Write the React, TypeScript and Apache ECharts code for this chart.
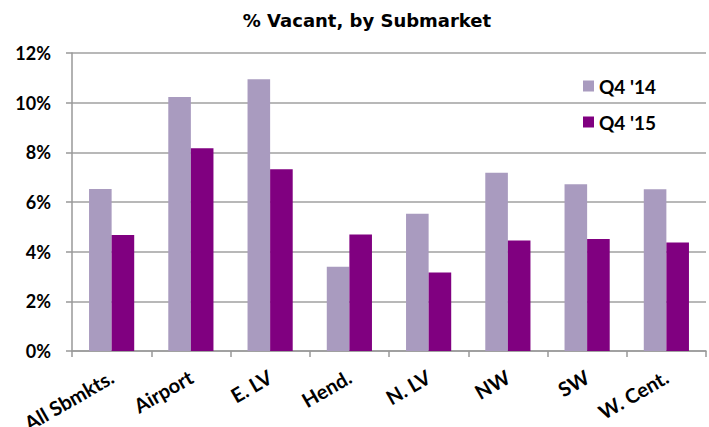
import React, { useEffect, useRef } from "react";
import * as echarts from "echarts";

const categories = ["All Sbmkts.", "Airport", "E. LV", "Hend.", "N. LV", "NW", "SW", "W. Cent."];
const q414 = [6.52, 10.23, 10.94, 3.39, 5.53, 7.18, 6.71, 6.51];
const q415 = [4.67, 8.16, 7.32, 4.69, 3.16, 4.45, 4.51, 4.37];
const seriesNames = ["Q4 '14", "Q4 '15"];

const FONT = "Lato, 'DejaVu Sans', sans-serif";

export default function App() {
  const ref = useRef<HTMLDivElement>(null);
  useEffect(() => {
    document.body.style.margin = "0";
    if (!ref.current) return;
    const chart = echarts.init(ref.current, null, { renderer: "svg" });
    chart.setOption({
      animation: false,
      backgroundColor: "#ffffff",
      title: {
        text: "% Vacant, by Submarket",
        left: 362,
        textAlign: "center",
        top: 6,
        textStyle: { fontFamily: "'DejaVu Sans', sans-serif", fontWeight: "bold", fontSize: 18, color: "#000" },
      },
      legend: {
        orient: "vertical",
        left: 578,
        top: 71,
        itemWidth: 11,
        itemHeight: 11,
        itemGap: 16,
        icon: "rect",
        data: seriesNames,
        textStyle: { fontFamily: FONT, fontWeight: "bold", fontSize: 19, color: "#000", lineHeight: 20 },
      },
      grid: { left: 72, right: 3, top: 53, bottom: 76, containLabel: false, outerBoundsMode: "none" },
      xAxis: {
        type: "category",
        data: categories,
        boundaryGap: true,
        axisLine: { show: true, lineStyle: { color: "#999999", width: 1.5 } },
        axisTick: { show: true, alignWithLabel: false, length: 6, lineStyle: { color: "#999999", width: 1.5 } },
        axisLabel: {
          interval: 0,
          rotate: 30,
          margin: 24,
          fontFamily: FONT,
          fontWeight: "bold",
          fontSize: 20,
          color: "#000",
        },
      },
      yAxis: {
        type: "value",
        min: 0,
        max: 12,
        interval: 2,
        axisLine: { show: true, lineStyle: { color: "#999999", width: 1.5 } },
        axisTick: { show: true, length: 6, lineStyle: { color: "#999999", width: 1.5 } },
        splitLine: { show: true, lineStyle: { color: "#A0A0A0", width: 1.5 } },
        axisLabel: {
          formatter: "{value}%",
          margin: 21,
          fontFamily: FONT,
          fontWeight: "bold",
          fontSize: 18,
          color: "#000",
        },
      },
      series: [
        {
          name: seriesNames[0],
          type: "bar",
          data: q414,
          barGap: "0%",
          barCategoryGap: "43%",
          itemStyle: { color: "#A99BBF" },
        },
        {
          name: seriesNames[1],
          type: "bar",
          data: q415,
          barGap: "0%",
          barCategoryGap: "43%",
          itemStyle: { color: "#800080" },
        },
      ],
    });
    return () => chart.dispose();
  }, []);
  return <div ref={ref} style={{ width: 709, height: 427 }} />;
}
